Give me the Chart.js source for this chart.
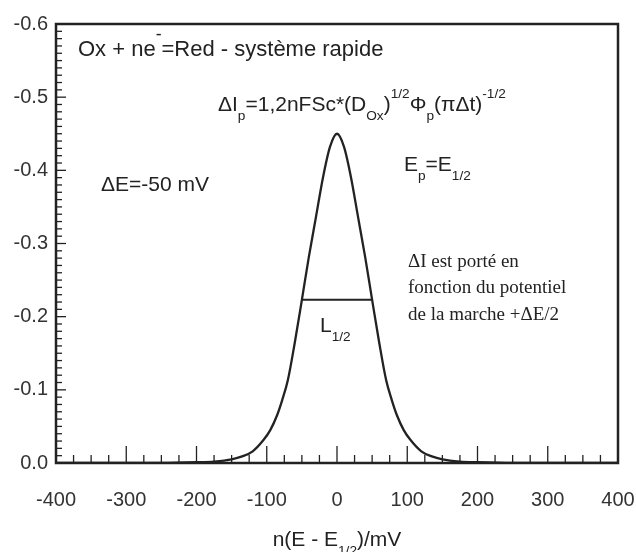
<!DOCTYPE html>
<html>
<head>
<meta charset="utf-8">
<script src="https://cdn.jsdelivr.net/npm/chart.js@4.4.1/dist/chart.umd.min.js"></script>
<style>
html, body { margin: 0; padding: 0; background: #fff; }
</style>
</head>
<body>
<canvas id="graf" width="636" height="552"></canvas>
<script>
// n(E - E1/2) en mV
const potentiel = [-400, -300, -250, -200, -175, -150, -135, -120, -105, -95, -85, -78, -70, -60, -50, -40, -30, -20, -10, 0,
                   10, 20, 30, 40, 50, 60, 70, 78, 85, 95, 105, 120, 135, 150, 175, 200, 250, 300, 400];
// courant différentiel (axe inversé)
const deltaI = [0, 0, 0, -0.001, -0.002, -0.005, -0.009, -0.016, -0.031, -0.045, -0.066, -0.086, -0.113, -0.165, -0.223, -0.282, -0.336, -0.390, -0.432, -0.450,
                -0.432, -0.390, -0.336, -0.282, -0.223, -0.165, -0.113, -0.086, -0.066, -0.045, -0.031, -0.016, -0.009, -0.005, -0.002, -0.001, 0, 0, 0];
// largeur à mi-hauteur L1/2
const largeurX = [-50, 50];
const largeurY = [-0.223, -0.223];

const xTicks = [-400, -300, -200, -100, 0, 100, 200, 300, 400];
const yTicks = [-0.6, -0.5, -0.4, -0.3, -0.2, -0.1, 0.0];

const ink = '#222';
const sans = '"Liberation Sans", Arial, sans-serif';
const serif = '"Liberation Serif", "Times New Roman", serif';

// texte avec indices / exposants
function drawRich(ctx, x, y, parts, size, family) {
    family = family || sans;
    let cx = x;
    parts.forEach(p => {
        const txt = p[0], kind = p[1] || '';
        let s = size, dy = 0;
        if (kind === 'sub') { s = size * 0.65; dy = size * 0.42; }
        if (kind === 'sup') { s = size * 0.65; dy = -size * 0.6; }
        if (kind === 'top') { s = size * 0.8; dy = -size * 0.75; }
        ctx.font = s + 'px ' + family;
        ctx.fillText(txt, cx, y + dy);
        cx += ctx.measureText(txt).width;
    });
    return cx - x;
}

const decor = {
    id: 'decor',
    afterDraw(chart) {
        const ctx = chart.ctx;
        const a = chart.chartArea;
        const sx = chart.scales.x, sy = chart.scales.y;
        ctx.save();
        ctx.strokeStyle = ink;
        // petites graduations vers l'intérieur
        ctx.lineWidth = 1.3;
        for (let i = 0; i <= 60; i++) {
            const v = -i / 100;
            const py = sy.getPixelForValue(v);
            const len = (i % 10 === 0) ? 10 : 6;
            ctx.beginPath();
            ctx.moveTo(a.left, py);
            ctx.lineTo(a.left + len, py);
            ctx.stroke();
        }
        for (let v = -375; v < 400; v += 25) {
            const px = sx.getPixelForValue(v);
            const len = (v % 100 === 0) ? 17 : 8;
            ctx.beginPath();
            ctx.moveTo(px, a.bottom);
            ctx.lineTo(px, a.bottom - len);
            ctx.stroke();
        }
        // cadre
        ctx.lineWidth = 2.5;
        ctx.strokeRect(a.left, a.top, a.right - a.left, a.bottom - a.top);

        ctx.fillStyle = ink;
        ctx.textBaseline = 'alphabetic';
        ctx.textAlign = 'left';
        drawRich(ctx, 78, 56, [['Ox + ne'], ['-', 'top'], ['=Red - système rapide']], 22);
        drawRich(ctx, 218, 111, [['ΔI'], ['p', 'sub'], ['=1,2nFSc*(D'], ['Ox', 'sub'], [')'], ['1/2', 'sup'], ['Φ'], ['p', 'sub'], ['(πΔt)'], ['-1/2', 'sup']], 21);
        drawRich(ctx, 101, 191, [['ΔE=-50 mV']], 21);
        drawRich(ctx, 404, 171, [['E'], ['p', 'sub'], ['=E'], ['1/2', 'sub']], 21);
        drawRich(ctx, 320, 332, [['L'], ['1/2', 'sub']], 21);
        drawRich(ctx, 408, 267, [['ΔI est porté en']], 19, serif);
        drawRich(ctx, 408, 293, [['fonction du potentiel']], 19, serif);
        drawRich(ctx, 408, 320, [['de la marche +ΔE/2']], 19, serif);
        // titre de l'axe x
        const parts = [['n(E - E'], ['1/2', 'sub'], [')/mV']];
        ctx.globalAlpha = 0;
        const w = drawRich(ctx, 0, 0, parts, 21);
        ctx.globalAlpha = 1;
        drawRich(ctx, sx.getPixelForValue(0) - w / 2, 546, parts, 21);
        ctx.restore();
    }
};

const ctx = document.getElementById('graf').getContext('2d');
new Chart(ctx, {
    type: 'line',
    data: {
        datasets: [
            {
                data: potentiel.map((x, i) => ({ x: x, y: deltaI[i] })),
                borderColor: ink,
                borderWidth: 2.3,
                pointRadius: 0,
                fill: false,
                cubicInterpolationMode: 'monotone'
            },
            {
                data: largeurX.map((x, i) => ({ x: x, y: largeurY[i] })),
                borderColor: ink,
                borderWidth: 2,
                pointRadius: 0,
                fill: false
            }
        ]
    },
    options: {
        responsive: false,
        animation: false,
        devicePixelRatio: 1,
        layout: { padding: { top: 24, right: 18, left: 0, bottom: 0 } },
        plugins: { legend: { display: false }, tooltip: { enabled: false } },
        scales: {
            x: {
                type: 'linear',
                min: -400,
                max: 400,
                afterBuildTicks: s => { s.ticks = xTicks.map(v => ({ value: v })); },
                ticks: { color: '#333', font: { size: 20, family: sans }, padding: 25, maxRotation: 0 },
                grid: { display: false, drawTicks: false },
                border: { display: false },
                afterFit: s => { s.height = 89; s.paddingLeft = 0; s.paddingRight = 0; }
            },
            y: {
                type: 'linear',
                min: -0.6,
                max: 0,
                reverse: true,
                afterBuildTicks: s => { s.ticks = yTicks.map(v => ({ value: v })); },
                ticks: {
                    color: '#333',
                    font: { size: 20, family: sans },
                    padding: 8,
                    callback: v => Math.abs(v) < 1e-9 ? '0.0' : v.toFixed(1)
                },
                grid: { display: false, drawTicks: false },
                border: { display: false },
                afterFit: s => { s.width = 56; s.paddingTop = 0; s.paddingBottom = 0; }
            }
        }
    },
    plugins: [decor]
});
</script>
</body>
</html>
